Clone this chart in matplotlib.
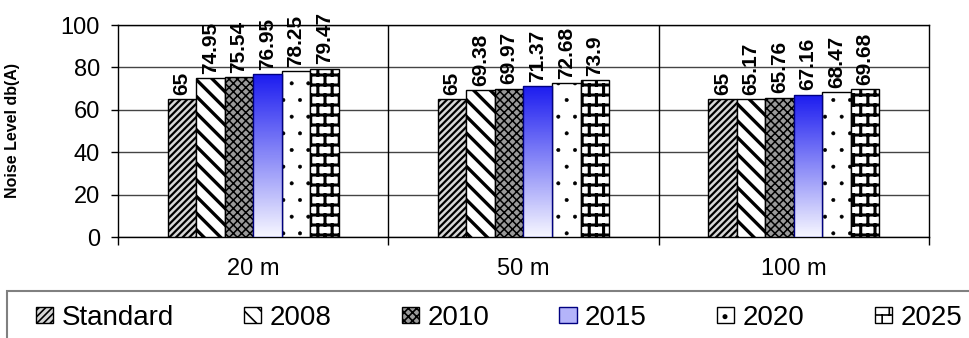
import warnings
import numpy as np
import matplotlib
matplotlib.use('Agg')
import matplotlib.pyplot as plt
import matplotlib.hatch as mhatch
from matplotlib.path import Path
from matplotlib.patches import Rectangle
from matplotlib.colors import LinearSegmentedColormap

warnings.filterwarnings('ignore', category=matplotlib.MatplotlibDeprecationWarning)

# DATA

distances = ['20 m', '50 m', '100 m']
series = ['Standard', '2008', '2010', '2015', '2020', '2025']
standard = [65, 65, 65]
y2008 = [74.95, 69.38, 65.17]
y2010 = [75.54, 69.97, 65.76]
y2015 = [76.95, 71.37, 67.16]
y2020 = [78.25, 72.68, 68.47]
y2025 = [79.47, 73.9, 69.68]
values = [standard, y2008, y2010, y2015, y2020, y2025]


# Brick hatch ('b') for the 2025 bars
class BrickHatch(mhatch.HatchPatternBase):
    def __init__(self, hatch, density):
        self.rows = hatch.count('b') * 10
        self.cols = 7
        n = self.rows + self.rows * self.cols + (self.cols if self.rows else 0)
        self.num_vertices = n * 2

    def set_vertices_and_codes(self, vertices, codes):
        h = 1.0 / self.rows
        segs = []
        for i in range(self.rows):
            y = (i + 0.5) * h
            segs.append(((0.0, y), (1.0, y)))
            shift = 0.25 / self.cols + (0.5 / self.cols if i % 2 else 0.0)
            for j in range(self.cols):
                x = j / self.cols + shift
                if i < self.rows - 1:
                    segs.append(((x, y), (x, y + h)))
                else:
                    segs.append(((x, y), (x, 1.0)))
                    segs.append(((x, 0.0), (x, 0.5 * h)))
        vertices[:] = np.array(segs).reshape(-1, 2)
        codes[0::2] = Path.MOVETO
        codes[1::2] = Path.LINETO


mhatch._hatch_types.append(BrickHatch)

plt.rcParams['font.family'] = ['Liberation Sans', 'DejaVu Sans']
plt.rcParams['hatch.linewidth'] = 1.2

styles = [
    dict(facecolor='#d8d8d8', edgecolor='black', hatch='/////', hlw=1.6),
    dict(facecolor='white', edgecolor='black', hatch='\\\\', hlw=2.4),
    dict(facecolor='#9a9a9a', edgecolor='black', hatch='xxxx', hlw=1.1),
    dict(facecolor='#b4b4fa', edgecolor='#000080', hatch=None, hlw=1.0),
    dict(facecolor='white', edgecolor='black', hatch='.', hlw=0.4),
    dict(facecolor='white', edgecolor='black', hatch='b', hlw=2.2),
]

fig = plt.figure(figsize=(9.7, 3.38), dpi=100)
ax = fig.add_axes([118 / 970, 1 - 237 / 338, 811 / 970, 212 / 338])

x = np.arange(len(distances))
w = 0.1056
grad = LinearSegmentedColormap.from_list('blues', ['#f6f6ff', '#1c1cf0'])

containers = []
for i, (name, vals, st) in enumerate(zip(series, values, styles)):
    bars = ax.bar(x + (i - 2.5) * w, vals, w, label=name,
                  facecolor=st['facecolor'], edgecolor=st['edgecolor'],
                  hatch=st['hatch'], linewidth=1.0, zorder=3)
    for b in bars:
        if hasattr(b, 'set_hatch_linewidth'):
            b.set_hatch_linewidth(st['hlw'])
    containers.append(bars)
    ax.bar_label(bars, labels=[f'{v:g}' for v in vals], rotation=90,
                 padding=3, fontsize=15, fontweight='bold')

# Gradient fill for 2015
for b in containers[3]:
    x0, y0 = b.get_x(), b.get_y()
    img = ax.imshow(np.linspace(1, 0, 100).reshape(-1, 1), cmap=grad,
                    extent=[x0, x0 + b.get_width(), y0, y0 + b.get_height()],
                    aspect='auto', zorder=3.5)
    img.set_clip_path(b)
    b.set_zorder(3.6)
    b.set_facecolor('none')

ax.set_xlim(-0.5, 2.5)
ax.set_ylim(0, 100)
ax.set_yticks(np.arange(0, 101, 20))
ax.set_xticks(x)
ax.set_xticklabels(distances)
ax.set_xticks(np.arange(-0.5, 3, 1), minor=True)
ax.tick_params(axis='x', which='major', length=0, pad=15, labelsize=17)
ax.tick_params(axis='x', which='minor', length=6, width=1, direction='out')
ax.tick_params(axis='y', length=5, width=1, pad=8, labelsize=17)

ax.yaxis.grid(True, color='#444444', linewidth=1.0)
for sep in x[:-1] + 0.5:
    ax.axvline(sep, color='black', linewidth=1.0, zorder=1)
ax.set_axisbelow(True)
for s in ax.spines.values():
    s.set_color('black')
    s.set_linewidth(1.0)

ax.set_ylabel('Noise Level db(A)', fontsize=11.5, fontweight='bold')
ax.yaxis.set_label_coords(-0.121, 0.5)

# Legend box runs off the right and bottom edges
fig.patches.append(Rectangle((7 / 970, -0.1), 1.0, 0.1 + 1 - 291 / 338,
                             transform=fig.transFigure, facecolor='none',
                             edgecolor='#808080', linewidth=1.5))
leg = fig.legend(containers, series, loc='center left', ncol=6, mode='expand',
                 bbox_to_anchor=(36 / 970, 1 - 318 / 338, 926 / 970, 0.0),
                 bbox_transform=fig.transFigure, fontsize=20, frameon=False,
                 handlelength=0.62, handleheight=0.5,
                 handletextpad=0.3, borderpad=0.0, borderaxespad=0.0)
leg.legend_handles[3].set_facecolor('#b4b4fa')

fig.savefig('out.png', dpi=100)
